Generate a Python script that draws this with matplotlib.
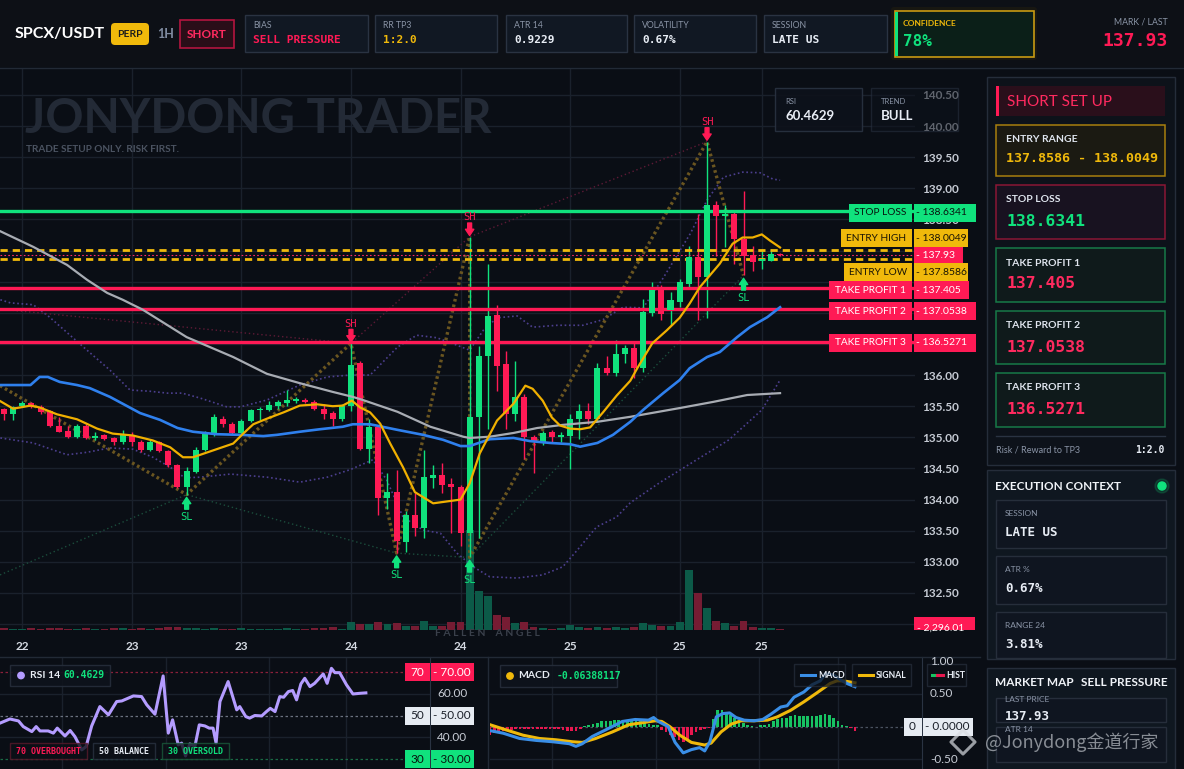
import matplotlib
matplotlib.use("Agg")
import matplotlib.pyplot as plt
from matplotlib.patches import Rectangle, FancyBboxPatch, Circle
from matplotlib import transforms
import numpy as np

# ======================= DATA =======================
pair = "SPCX/USDT"
timeframe = "1H"
stat_labels = ["BIAS", "RR TP3", "ATR 14", "VOLATILITY", "SESSION"]
stat_values = ["SELL PRESSURE", "1:2.0", "0.9229", "0.67%", "LATE US"]
confidence = "78%"
last_price = 137.93

opens = [135.46,135.38,135.50,135.55,135.49,135.42,135.19,135.10,135.01,135.19,
         134.99,135.03,134.99,134.92,135.03,134.93,134.80,134.92,134.78,134.56,
         134.20,134.44,134.80,135.07,135.30,135.22,135.07,135.27,135.44,135.44,
         135.50,135.55,135.59,135.60,135.57,135.45,135.39,135.29,135.50,136.19,
         134.81,135.16,134.03,134.12,133.32,133.76,133.55,134.35,134.40,134.25,
         134.21,133.47,135.32,136.30,136.97,136.18,135.37,135.65,135.01,134.93,
         135.08,135.01,135.02,135.30,135.42,135.29,136.12,136.03,136.34,136.43,
         136.12,137.00,137.37,137.05,137.17,137.47,137.89,137.57,138.74,138.55,
         138.58,138.19,137.93,137.84,137.84,137.95]
highs = [135.47,135.50,135.58,135.57,135.52,135.44,135.33,135.19,135.21,135.21,
         135.08,135.05,135.00,135.11,135.08,134.96,134.97,134.94,134.80,134.57,
         134.52,134.85,135.10,135.37,135.35,135.25,135.29,135.46,135.48,135.59,
         135.60,135.76,135.65,135.63,135.60,135.54,135.42,135.53,136.51,136.22,
         135.30,135.18,134.42,134.48,133.81,134.10,134.80,134.55,134.58,134.34,
         134.23,138.22,136.47,137.78,137.13,136.39,136.23,135.70,135.03,135.10,
         135.11,135.09,135.38,135.54,135.55,136.20,136.30,136.57,136.49,136.55,
         137.22,137.49,137.45,137.33,137.55,138.08,138.59,139.75,138.80,138.74,
         138.62,138.96,138.07,138.03,138.02,137.96]
lows = [135.28,135.28,135.48,135.47,135.38,135.16,135.08,134.99,134.99,134.97,
        134.95,134.96,134.88,134.90,134.86,134.76,134.78,134.77,134.53,134.19,
        134.08,134.42,134.78,135.02,135.17,135.05,135.05,135.25,135.28,135.42,
        135.45,135.50,135.55,135.55,135.44,135.30,135.18,135.27,135.43,134.80,
        134.58,133.75,133.85,133.14,133.15,133.42,133.39,134.18,134.10,133.47,
        133.26,133.07,133.38,135.14,135.74,135.14,135.27,134.65,134.42,134.87,
        134.92,134.93,134.49,134.97,135.22,135.25,136.00,135.99,136.19,135.95,
        136.05,136.95,136.88,136.80,137.10,137.40,136.88,136.91,137.92,138.05,
        137.79,137.60,137.68,137.71,137.83,137.91]
closes = [135.38,135.48,135.55,135.49,135.40,135.18,135.09,135.01,135.19,134.99,
          135.02,134.98,134.92,135.03,134.93,134.80,134.92,134.78,134.55,134.20,
          134.46,134.80,135.07,135.32,135.22,135.07,135.27,135.44,135.46,135.52,
          135.56,135.60,135.60,135.57,135.45,135.38,135.29,135.50,136.17,134.81,
          135.16,134.03,134.12,133.33,133.76,133.55,134.36,134.40,134.24,134.20,
          133.47,135.32,136.30,136.95,136.15,135.37,135.65,135.00,134.93,135.07,
          135.01,135.03,135.30,135.42,135.29,136.11,136.03,136.34,136.43,136.12,
          137.02,137.37,136.98,137.20,137.49,137.89,137.57,138.74,138.55,138.58,
          138.19,137.92,137.81,137.87,137.95,137.93]
# volume in thousands
volumes_k = [4.6,2.3,2.3,4.6,2.3,4.6,4.6,2.3,2.3,4.6,
             2.3,2.3,4.6,4.6,2.3,4.6,2.3,4.6,6.9,6.9,
             4.6,4.6,2.3,4.6,2.3,2.3,4.6,2.3,2.3,2.3,
             2.3,4.6,2.3,2.3,4.6,4.6,6.9,2.3,18.4,13.8,
             13.8,18.4,13.8,16.1,9.2,9.2,20.7,9.2,9.2,18.4,
             18.4,229.6,89.5,78.1,34.4,29.8,16.1,18.4,6.9,4.6,
             2.3,4.6,11.5,6.9,4.6,6.9,4.6,6.9,4.6,6.9,
             16.1,11.5,9.2,9.2,18.4,137.8,85.0,50.5,20.7,16.1,
             9.2,20.7,6.9,4.6,4.6,2.296]
last_volume_label = "2,296.01"

x_tick_idx = [2, 14, 26, 38, 50, 62, 74, 83]
x_tick_labels = ["22", "23", "23", "24", "24", "25", "25", "25"]
price_ticks = [132.5, 133.0, 133.5, 134.0, 134.5, 135.0, 135.5, 136.0,
               138.5, 139.0, 139.5, 140.0, 140.5]

fast_x = [-0.4,1.0,2.9,3.9,5.8,8.0,10.2,11.9,14.1,16.3,18.2,19.6,20.7,22.9,25.1,26.2,27.3,28.8,
          30.6,32.4,34.3,36.0,37.1,38.1,39.0,40.1,41.2,42.3,43.7,45.0,47.0,50.0,51.0,52.1,54.0,
          55.8,57.1,57.9,59.0,60.0,60.9,62.0,63.1,64.2,65.6,67.1,68.6,69.4,71.0,72.6,74.0,75.1,
          76.2,77.3,78.4,79.8,80.9,82.0,83.0,83.9,85.0]
fast_y = [135.58,135.46,135.51,135.48,135.37,135.29,135.14,135.06,135.03,134.95,134.84,134.68,
          134.68,134.79,134.90,135.06,135.21,135.30,135.40,135.51,135.53,135.50,135.51,135.59,
          135.48,135.40,135.22,134.90,134.52,134.12,133.94,134.00,134.26,134.74,135.27,135.54,
          135.83,135.78,135.59,135.32,135.19,135.14,135.13,135.16,135.40,135.67,135.91,136.12,
          136.51,136.72,136.92,137.15,137.41,137.60,137.79,138.11,138.21,138.21,138.26,138.16,
          138.05]
mid_x = [-0.4,2.9,3.9,4.8,6.1,8.0,9.4,11.6,14.9,17.1,19.0,20.7,23.3,25.9,28.4,29.9,32.4,34.6,
         37.1,38.2,40.1,43.1,45.9,48.1,50.0,51.0,53.2,55.8,57.6,59.8,62.0,63.1,65.0,66.7,68.6,
         70.0,72.2,74.0,75.1,77.0,78.4,80.3,81.7,83.6,85.0]
mid_y = [135.84,135.84,135.97,135.97,135.89,135.84,135.79,135.65,135.39,135.28,135.15,135.09,
         135.05,135.04,135.02,135.04,135.09,135.13,135.17,135.21,135.21,135.12,135.04,134.96,
         134.86,134.86,134.97,134.99,134.94,134.91,134.89,134.85,134.91,135.04,135.25,135.44,
         135.71,135.92,136.11,136.29,136.37,136.61,136.77,136.93,137.09]
slow_x = [-0.4,3.2,6.9,9.1,11.3,13.0,15.2,20.0,25.1,28.8,32.4,36.0,38.2,39.3,43.1,46.7,50.3,
          51.0,53.2,55.8,58.4,61.2,65.0,68.6,74.0,77.7,81.4,85.0]
slow_y = [138.31,138.06,137.77,137.53,137.32,137.21,137.05,136.61,136.29,136.02,135.87,135.73,
          135.65,135.60,135.41,135.17,135.01,134.99,135.01,135.07,135.15,135.20,135.25,135.33,
          135.47,135.57,135.68,135.71]
bb_up_x = [-0.4,0.7,3.2,5.0,8.7,11.6,13.8,16.0,17.9,19.5,21.5,24.4,25.9,28.8,32.4,35.4,37.9,
           40.1,43.1,45.2,47.4,48.9,51.0,52.5,54.0,56.2,57.9,60.6,63.4,65.6,67.8,70.0,72.2,
           75.2,77.0,78.8,80.9,82.8,84.2,85.0]
bb_up_y = [137.21,137.16,137.13,136.93,136.45,136.08,135.76,135.74,135.71,135.71,135.63,
           135.49,135.49,135.60,135.84,135.97,136.00,136.00,136.45,136.64,136.60,136.52,
           136.40,136.72,136.92,136.95,136.77,136.80,136.80,136.89,137.09,137.08,137.56,
           138.28,138.81,139.18,139.26,139.25,139.15,139.13]
bb_lo_x = [-0.4,3.2,6.9,9.1,11.6,14.1,16.3,18.2,19.8,21.5,24.8,28.8,32.4,35.4,37.9,40.4,
           41.9,43.7,45.9,47.8,49.6,51.4,53.2,56.2,59.0,61.2,62.8,64.9,67.1,68.6,71.9,76.2,
           79.4,83.0,85.0]
bb_lo_y = [134.99,134.91,134.72,134.76,134.83,134.81,134.68,134.52,134.35,134.36,134.41,
           134.36,134.28,134.36,134.48,134.64,134.32,133.72,133.51,133.46,133.14,132.92,
           132.76,132.74,132.79,132.92,133.19,133.56,133.72,133.95,134.28,134.67,134.96,
           135.44,135.92]

zigzag_x = [-0.44, 20, 38, 43, 51, 51, 77, 81]
zigzag_y = [135.83, 134.08, 136.51, 133.14, 138.22, 133.07, 139.75, 137.60]
hi_trend_x = [-0.44, 38, 51, 77]
hi_trend_y = [137.06, 136.51, 138.22, 139.75]
lo_trend_x = [-0.44, 20, 43, 51, 81]
lo_trend_y = [132.79, 134.08, 133.14, 133.07, 137.60]
swing_high_idx = [38, 51, 77]
swing_low_idx = [20, 43, 51, 81]

level_names = ["STOP LOSS", "ENTRY HIGH", "ENTRY LOW", "TAKE PROFIT 1", "TAKE PROFIT 2", "TAKE PROFIT 3"]
level_prices = [138.6341, 138.0049, 137.8586, 137.405, 137.0538, 136.5271]
level_texts = ["138.6341", "138.0049", "137.8586", "137.405", "137.0538", "136.5271"]

rsi_value = "60.4629"
rsi_x = [0,2.3,4.3,5.4,7.4,8.4,9.3,11.2,12.4,13.3,15.1,16.3,17.4,19.0,20.0,21.3,23.2,25.2,27.1,
         28.3,31.0,32.9,34.1,36.0,37.9,39.1,40.1,41.4,42.2,43.1,44.1,45.3,46.3,47.6,48.6,49.5,
         50.2,51.1,53.0,55.0,55.7,57.1,58.0,59.2,60.8,61.9,62.8,63.9,65.0,65.9,67.0,68.0,68.9,
         69.9,70.8,72.0,73.1,75.1,76.0,77.0,77.8,78.9,80.5,82.0,83.6,85.0]
rsi_y = [46.6,48.5,47.6,45.0,42.7,45.0,43.0,43.0,42.0,44.3,40.7,43.2,40.4,34.3,35.8,45.3,54.2,
         50.4,56.5,56.8,59.1,58.8,55.0,50.7,68.3,42.0,48.1,36.6,37.4,31.5,37.0,36.1,45.8,45.3,
         44.3,44.3,37.4,56.5,65.7,52.7,54.2,49.6,48.9,50.1,49.9,51.9,53.4,51.9,58.8,58.5,61.1,
         61.6,57.3,64.6,67.2,63.4,64.9,69.2,64.9,71.8,69.8,69.8,64.2,60.0,60.3,60.5]

macd_value = "-0.06388117"
macd_x = [0,3.1,6.9,10.8,14.6,18.5,20.0,21.5,23.8,26.9,30.8,33.8,36.9,38.1,39.2,41.5,43.1,45.0,
          46.9,48.8,50.0,51.2,52.7,54.2,55.8,57.3,59.2,61.5,63.5,65.4,67.7,69.2,70.8,73.1,75.0,
          76.9,78.1,80.0,81.5,83.1,85.0]
macd_y = [-0.06,-0.10,-0.18,-0.21,-0.23,-0.26,-0.30,-0.26,-0.15,-0.05,0.08,0.11,0.10,0.14,0.08,
          0.00,-0.24,-0.40,-0.35,-0.32,-0.37,-0.23,0.15,0.20,0.21,0.14,0.10,0.09,0.11,0.19,0.30,
          0.32,0.45,0.53,0.64,0.70,0.81,0.79,0.72,0.66,0.61]
signal_x = [0,3.8,7.7,11.5,15.4,19.2,21.5,24.6,28.5,32.3,35.4,38.5,40.0,41.9,44.2,46.9,50.0,
            51.5,53.8,56.2,58.5,61.5,64.6,66.9,70.0,73.1,76.2,79.2,80.8,82.3,85.0]
signal_y = [0.03,-0.05,-0.13,-0.18,-0.20,-0.23,-0.24,-0.18,-0.08,0.03,0.06,0.09,0.08,0.00,-0.13,
            -0.24,-0.28,-0.25,-0.08,0.04,0.09,0.09,0.10,0.15,0.25,0.38,0.52,0.66,0.70,0.70,0.67]
hist = [-0.13,-0.10,-0.08,-0.06,-0.05,-0.05,-0.04,-0.04,-0.04,-0.03,
        -0.03,-0.03,-0.03,-0.03,-0.04,-0.04,-0.04,-0.05,-0.06,-0.07,
        -0.07,-0.04,0.01,0.03,0.04,0.06,0.08,0.09,0.09,0.10,
        0.10,0.10,0.10,0.10,0.09,0.08,0.06,0.04,0.03,0.02,
        -0.05,-0.08,-0.12,-0.16,-0.20,-0.24,-0.20,-0.13,-0.08,-0.05,
        -0.04,-0.02,0.12,0.26,0.26,0.22,0.18,0.14,0.10,0.05,
        0.03,0.01,-0.01,0.02,0.03,0.04,0.08,0.11,0.13,0.14,
        0.16,0.18,0.17,0.17,0.17,0.17,0.16,0.18,0.19,0.18,
        0.13,0.08,0.03,0.01,-0.02,-0.07]

setup_title = "SHORT SET UP"
setup_labels = ["ENTRY RANGE", "STOP LOSS", "TAKE PROFIT 1", "TAKE PROFIT 2", "TAKE PROFIT 3"]
setup_values = ["137.8586 - 138.0049", "138.6341", "137.405", "137.0538", "136.5271"]
rr_value = "1:2.0"
ctx_labels = ["SESSION", "ATR %", "RANGE 24"]
ctx_values = ["LATE US", "0.67%", "3.81%"]

# ======================= STYLE =======================
W, H = 1184, 769
DPI = 100
BG = '#0a0e15'
HEADER_BG = '#0d1016'
GRID = '#1a212c'
GREEN = '#10e27d'
RED = '#ff1a55'
GOLD = '#f0b90b'
TXT = '#e8edf5'
MUTED = '#8a94a6'
SANS = 'Lato'
MONO = 'DejaVu Sans Mono'

fig = plt.figure(figsize=(W / DPI, H / DPI), dpi=DPI)
fig.patch.set_facecolor(BG)


def rect(x0, y0, x1, y1):
    return [x0 / W, 1 - y1 / H, (x1 - x0) / W, (y1 - y0) / H]


# ======================= MAIN CHART =======================
ax = fig.add_axes(rect(0, 68, 915, 630))
ax.set_facecolor(BG)
n = len(closes)
idx = np.arange(n)
o = np.array(opens); c = np.array(closes); hi = np.array(highs); lo = np.array(lows)
ax.set_xlim(-0.44, 99.78)
ax.set_ylim(131.905, 140.933)
for s in ax.spines.values():
    s.set_visible(False)
ax.set_yticks(price_ticks)
ax.set_yticklabels([f"{v:.2f}" for v in price_ticks])
ax.set_yticks(np.arange(132.0, 140.51, 0.5), minor=True)
ax.yaxis.tick_right()
ax.tick_params(axis='y', which='both', length=0, pad=5, labelsize=8.5, labelcolor='#c5cad3')
ax.set_xticks(x_tick_idx)
ax.set_xticklabels(x_tick_labels)
ax.tick_params(axis='x', length=0, pad=8, labelsize=8.5, labelcolor='#d5dae2')
for lbl in ax.get_xticklabels() + ax.get_yticklabels():
    lbl.set_fontfamily(SANS)
    lbl.set_fontweight('bold')
ax.grid(True, which='both', axis='y', color=GRID, lw=1.0, zorder=0)
ax.grid(True, which='major', axis='x', color=GRID, lw=1.0, zorder=0)
ax.set_axisbelow(True)

# volume
VOL_TOP = 1290.4
blend = transforms.blended_transform_factory(ax.transData, ax.transAxes)
for i in idx:
    col = '#0c5a48' if c[i] >= o[i] else '#761c33'
    ax.add_patch(Rectangle((i - 0.43, 0), 0.86, volumes_k[i] / VOL_TOP, transform=blend,
                           facecolor=col, lw=0, zorder=1))

# bollinger bands
ax.plot(bb_up_x, bb_up_y, color='#4c3f8e', lw=1.2, ls=(0, (1, 1.6)), zorder=2)
ax.plot(bb_lo_x, bb_lo_y, color='#4c3f8e', lw=1.2, ls=(0, (1, 1.6)), zorder=2)
# trend lines
ax.plot(hi_trend_x, hi_trend_y, color='#5e1a36', lw=1.0, ls=(0, (1, 2)), zorder=2)
ax.plot(lo_trend_x, lo_trend_y, color='#1b4d3c', lw=1.0, ls=(0, (1, 2)), zorder=2)
# zigzag
ax.plot(zigzag_x, zigzag_y, color='#6a5520', lw=2.4, ls=(0, (0.8, 0.9)), zorder=2.5)

# levels
level_colors = [GREEN, GOLD, GOLD, RED, RED, RED]
for name, p, col in zip(level_names, level_prices, level_colors):
    if name.startswith('ENTRY'):
        ax.axhline(p, color=col, lw=2.0, ls=(0, (2.6, 1.8)), zorder=3.5)
    else:
        ax.axhline(p, color=col, lw=2.4, zorder=3.5)
ax.axhline(last_price, color='#ff2a6a', lw=0.8, ls=(0, (1.5, 2)), zorder=3.5)

# candles
cols = np.where(c >= o, GREEN, RED)
ax.vlines(idx, lo, hi, colors=cols, lw=1.0, zorder=3)
ax.bar(idx, np.maximum(np.abs(c - o), 0.018), bottom=np.minimum(o, c), width=0.66,
       color=cols, lw=0, zorder=4)

# moving averages
ax.plot(slow_x, slow_y, color='#a8acb3', lw=1.6, zorder=5)
ax.plot(mid_x, mid_y, color='#2f80ed', lw=1.9, zorder=5)
ax.plot(fast_x, fast_y, color='#f0b000', lw=1.6, zorder=5.5)

# swing markers
for i in swing_high_idx:
    ax.annotate('', xy=(i, hi[i]), xytext=(0, 10), textcoords='offset points',
                arrowprops=dict(arrowstyle='simple,head_length=0.45,head_width=0.6,tail_width=0.28',
                                color=RED, shrinkA=0, shrinkB=1), zorder=7)
    ax.annotate('SH', xy=(i, hi[i]), xytext=(0, 14), textcoords='offset points', ha='center',
                va='center', fontsize=7.5, color=RED, family=MONO, zorder=7)
for i in swing_low_idx:
    ax.annotate('', xy=(i, lo[i]), xytext=(0, -10.5), textcoords='offset points',
                arrowprops=dict(arrowstyle='simple,head_length=0.45,head_width=0.6,tail_width=0.28',
                                color=GREEN, shrinkA=0, shrinkB=2), zorder=7)
    ax.annotate('SL', xy=(i, lo[i]), xytext=(0, -16), textcoords='offset points', ha='center',
                va='center', fontsize=7.5, color=GREEN, family=MONO, zorder=7)

# ======================= RSI PANEL =======================
ar = fig.add_axes(rect(0, 657, 430, 769))
ar.set_facecolor(BG)
ar.set_xlim(0, 99.9)
ar.set_ylim(25.5, 77.0)
for k, s in ar.spines.items():
    s.set_visible(k == 'right')
ar.spines['right'].set_color('#2a3342')
ar.set_xticks([]); ar.set_yticks([])
for gx in [14.4, 38.5, 62.5, 80.3]:
    ar.axvline(gx, color=GRID, lw=1, zorder=0)
for gy in [60, 40]:
    ar.axhline(gy, color=GRID, lw=1, zorder=0)
ar.axhline(70, color='#8a1f3a', lw=0.9, ls=(0, (2, 2)), zorder=1)
ar.axhline(50, color='#6b7280', lw=0.9, ls=(0, (2, 2)), zorder=1)
ar.axhline(30, color='#1a6b45', lw=0.9, ls=(0, (2, 2)), zorder=1)
ar.plot(rsi_x, rsi_y, color='#b49cff', lw=2.2, zorder=3)

# ======================= MACD PANEL =======================
am = fig.add_axes(rect(490, 657, 922, 769))
am.set_facecolor(BG)
am.set_xlim(0, 100.6)
am.set_ylim(-0.646, 1.064)
for k, s in am.spines.items():
    s.set_visible(k == 'right')
am.spines['right'].set_color('#2a3342')
am.set_xticks([]); am.set_yticks([])
for gx in [14.4, 38.7, 62.6, 81.0]:
    am.axvline(gx, color=GRID, lw=1, zorder=0)
for gy in [0.5, -0.5]:
    am.axhline(gy, color=GRID, lw=1, zorder=0)
am.axhline(0, color='#4a5260', lw=0.9, ls=(0, (2, 2)), zorder=1)
hc = ['#17c262' if v >= 0 else '#e8174f' for v in hist]
am.bar(np.arange(len(hist)), hist, width=0.62, color=hc, lw=0, zorder=2)
am.plot(signal_x, signal_y, color='#f0b90b', lw=2.2, zorder=3)
am.plot(macd_x, macd_y, color='#3a8ee6', lw=2.2, zorder=3.5)

# ======================= UI OVERLAY =======================
ui = fig.add_axes([0, 0, 1, 1], zorder=20)
ui.set_xlim(0, W)
ui.set_ylim(H, 0)
ui.axis('off')
ui.patch.set_alpha(0)


def box(x0, y0, x1, y1, fc='none', ec='none', lw=1.0, r=0, alpha=1.0, z=1):
    if r:
        p = FancyBboxPatch((x0, y0), x1 - x0, y1 - y0, boxstyle=f'round,pad=0,rounding_size={r}',
                           facecolor=fc, edgecolor=ec, lw=lw, alpha=alpha, zorder=z)
    else:
        p = Rectangle((x0, y0), x1 - x0, y1 - y0, facecolor=fc, edgecolor=ec, lw=lw,
                      alpha=alpha, zorder=z)
    ui.add_patch(p)
    return p


def txt(x, y, s, size, color, weight='normal', family=SANS, ha='left', va='center', z=3, **kw):
    return ui.text(x, y, s, fontsize=size, color=color, fontweight=weight, family=family,
                   ha=ha, va=va, zorder=z, **kw)


def py(price):
    return H - ax.transData.transform((0, price))[1]


# header
box(0, 0, W, 67, fc=HEADER_BG, z=0.5)
ui.plot([0, W], [67.5, 67.5], color='#222a36', lw=1, zorder=1)
txt(15, 34, pair, 11.5, '#ffffff', 'bold')
box(111, 23, 149, 45, fc=GOLD, r=4)
txt(130, 34.5, 'PERP', 7.5, '#1b1b1b', 'bold', ha='center')
txt(157, 34.5, timeframe, 9, '#7f8ba0', 'bold')
box(180, 20, 234, 48, fc='#2a0e18', ec='#b3153f', lw=1.2)
txt(207, 34.5, 'SHORT', 8.5, '#ff2a5f', 'bold', ha='center')
stat_x = [(245, 368), (375, 497), (506, 627), (634, 756), (764, 887)]
stat_colors = [RED, GOLD, TXT, TXT, TXT]
for (x0, x1), lab, val, col in zip(stat_x, stat_labels, stat_values, stat_colors):
    box(x0, 15, x1, 52, fc='#111823', ec='#2a3342', lw=1)
    txt(x0 + 8, 26, lab, 6.3, MUTED)
    txt(x0 + 8, 40, val, 8, col, 'bold', family=MONO)
# confidence
box(891, 7, 1037, 60, fc='#3a2c05', alpha=0.25, r=3)
box(895, 11, 1034, 57, fc='#0b1f18', ec='#c89a12', lw=1.2)
box(895, 12, 898, 56, fc=GREEN, z=2)
txt(903, 23, 'CONFIDENCE', 6, GOLD, 'bold')
txt(903, 41, confidence, 11.5, GREEN, 'bold', family=MONO)
txt(1168, 22, 'MARK / LAST', 6.3, MUTED, ha='right')
txt(1168, 41, f"{last_price:.2f}", 13, RED, 'bold', family=MONO, ha='right')

# watermark texts in chart
txt(25, 133, 'JONYDONG TRADER', 34, '#232a36', 'bold', va='baseline', z=0.8)
txt(26, 150, 'TRADE SETUP ONLY. RISK FIRST.', 7.2, '#4b5361', 'bold')
txt(487, 633, 'F A L L E N    A N G E L', 7.5, '#3a404b', 'bold', ha='center')

# rsi / trend mini boxes
box(775, 88, 862, 131, fc='#0d121b', ec='#2a3342', alpha=0.9)
txt(785, 101, 'RSI', 5.5, MUTED)
txt(785, 116, rsi_value, 9.5, TXT, 'bold')
box(871, 88, 958, 131, fc='#0d121b', ec='#2a3342', alpha=0.55)
txt(881, 101, 'TREND', 5.5, MUTED)
txt(881, 116, 'BULL', 9.5, TXT, 'bold')

# level labels
lab_x0 = [849, 841, 844, 829, 829, 829]
val_x1 = [976, 968, 968, 969, 976, 976]
lab_dy = [1.5, -12, 13, 2.5, 2, 0.5]
lab_fc = [GREEN, GOLD, GOLD, RED, RED, RED]
lab_tc = ['#08140e', '#1a1505', '#1a1505', '#ffffff', '#ffffff', '#ffffff']
for name, p, t, x0, x1, dy, fc, tc in zip(level_names, level_prices, level_texts, lab_x0,
                                           val_x1, lab_dy, lab_fc, lab_tc):
    yc = py(p) + dy
    box(x0, yc - 9, 912, yc + 9, fc=fc, z=4)
    box(913.5, yc - 9, x1, yc + 9, fc=fc, z=4)
    txt((x0 + 912) / 2, yc, name, 7.3, tc, ha='center', z=5)
    txt(916, yc, '- ' + t, 7.5, tc, z=5)
yl = py(last_price) + 0.5
box(913.5, yl - 8, 963, yl + 8, fc=RED, z=4.5)
txt(916, yl, f"- {last_price:.2f}", 7.5, '#ffffff', z=5)

# volume label (clipped at chart bottom)
vb = box(913.5, 617, 975, 630, fc=RED, z=4)
vt = txt(917, 628, '- ' + last_volume_label, 7.5, '#ffffff', z=5)
vt.set_clip_path(vb)

# bottom separators
ui.plot([0, 980], [657, 657], color='#222a36', lw=1, zorder=1)
ui.plot([488, 488], [657, 769], color='#222a36', lw=1, zorder=1)

# RSI panel labels
box(10, 665, 110, 686, fc='#0e131c', ec='#262e3b', alpha=0.9)
ui.add_patch(Circle((21, 675.5), 3.2, color='#b49cff', zorder=3))
txt(30, 675.5, 'RSI 14', 7.5, TXT, 'bold')
txt(63, 675.5, rsi_value, 7, GREEN, 'bold', family=MONO)
for (x0, x1, s, tc, ec) in [(10, 87, '70 OVERBOUGHT', RED, '#5a1a2b'),
                            (93, 155, '50 BALANCE', TXT, '#2a3342'),
                            (162, 229, '30 OVERSOLD', GREEN, '#1a5a3b')]:
    box(x0, 743, x1, 759, fc='#0c1017', ec=ec, alpha=0.8)
    txt((x0 + x1) / 2, 751, s, 6.0, tc, 'bold', family=MONO, ha='center')
for val, fc, tc in [(70, RED, '#ffffff'), (50, '#e6ebf2', '#1a1f29'), (30, GREEN, '#08140e')]:
    yc = H - ar.transData.transform((0, val))[1]
    box(405, yc - 9, 429.5, yc + 9, fc=fc, z=4)
    box(431, yc - 9, 474, yc + 9, fc=fc, z=4)
    txt(417, yc, f"{val}", 8.5, tc, ha='center', z=5)
    txt(433, yc, f"- {val:.2f}", 8.5, tc, z=5)
for val in [60, 40]:
    yc = H - ar.transData.transform((0, val))[1]
    txt(437, yc, f"{val:.2f}", 8.5, '#c8cdd6')

# MACD panel labels
box(500, 665, 617, 687, fc='#0e131c', ec='#262e3b', alpha=0.9)
ui.add_patch(Circle((510, 676), 3.2, color=GOLD, zorder=3))
txt(518, 676, 'MACD', 7.5, TXT, 'bold')
txt(557, 676, macd_value, 7, GREEN, 'bold', family=MONO)
for (x0, x1, s, lc) in [(794, 845, 'MACD', '#3a8ee6'), (852, 911, 'SIGNAL', GOLD),
                        (927, 966, 'HIST', None)]:
    box(x0, 664, x1, 686, fc='#0c1017', ec='#262e3b', alpha=0.75)
    if lc:
        ui.plot([x0 + 7, x0 + 21], [675, 675], color=lc, lw=2.2, zorder=3)
        txt(x0 + 24, 675, s, 6.2, TXT, 'bold')
    else:
        ui.plot([x0 + 5, x0 + 10], [675, 675], color='#17c262', lw=2.2, zorder=3)
        ui.plot([x0 + 10, x0 + 16], [675, 675], color='#e8174f', lw=2.2, zorder=3)
        txt(x0 + 19, 675, s, 6.2, TXT, 'bold')
for val in [1.0, 0.5, -0.5]:
    yc = H - am.transData.transform((0, val))[1]
    txt(930, yc, f"{val:.2f}", 8.5, '#c8cdd6')
y0m = H - am.transData.transform((0, 0))[1]
box(904, y0m - 9, 921.5, y0m + 9, fc='#e6ebf2', z=4)
box(923, y0m - 9, 973, y0m + 9, fc='#e6ebf2', z=4)
txt(912.5, y0m, '0', 8.5, '#1a1f29', ha='center', z=5)
txt(925, y0m, '- 0.0000', 8.5, '#1a1f29', z=5)

# ======================= RIGHT PANEL =======================
box(987, 77, 1175, 465, fc='#0d121a', ec='#252d3a')
box(996, 86, 1165, 116, fc='#2a0f1b')
box(996, 86, 999, 116, fc=RED, z=2)
txt(1007, 101.5, setup_title, 11, '#ff2a5f')
card_y = [(125, 176), (185, 239), (248, 302), (311, 364), (373, 427)]
card_ec = ['#a87f0e', '#8a1735', '#177a48', '#177a48', '#177a48']
card_fc = ['#1b1a12', '#181220', '#0f1a1b', '#0f1a1b', '#0f1a1b']
card_vc = [GOLD, GREEN, '#ff2a5f', '#ff2a5f', '#ff2a5f']
card_vs = [9.6, 11.8, 11.8, 11.8, 11.8]
for (y0, y1), lab, val, ec, fc, vc, vs in zip(card_y, setup_labels, setup_values, card_ec,
                                              card_fc, card_vc, card_vs):
    box(996, y0, 1165, y1, fc=fc, ec=ec, lw=1.1)
    txt(1006, y0 + 15, lab, 7.5, '#dfe5ee', 'bold')
    txt(1006, y0 + (33 if vs < 10 else 36), val, vs, vc, 'bold', family=MONO)
ui.plot([996, 1165], [436, 436], color='#2a3342', lw=1, zorder=2)
txt(996, 450, 'Risk / Reward to TP3', 6.5, MUTED)
txt(1165, 450, rr_value, 7, TXT, 'bold', family=MONO, ha='right')

box(987, 470, 1175, 659, fc='#0f1720', ec='#252d3a')
txt(995, 486, 'EXECUTION CONTEXT', 8.5, '#f0f3f8', 'bold')
ui.add_patch(Circle((1162, 486), 7, color=GREEN, alpha=0.15, zorder=2))
ui.add_patch(Circle((1162, 486), 4, color=GREEN, zorder=3))
for k, (lab, val) in enumerate(zip(ctx_labels, ctx_values)):
    y0 = 500 + 56 * k
    y1 = min(y0 + 48, 658)
    box(996, y0, 1166, y1, fc='#0f1520', ec='#262e3b')
    txt(1005, y0 + 13, lab, 6, MUTED)
    txt(1005, y0 + 32, val, 9, TXT, 'bold', family=MONO)

box(987, 668, 1175, 775, fc='#0f1720', ec='#252d3a')
txt(995, 683, 'MARKET MAP', 8.5, '#f0f3f8', 'bold')
txt(1081, 683, 'SELL PRESSURE', 8.5, '#f0f3f8', 'bold')
box(996, 698, 1166, 722, fc='#0f1520', ec='#262e3b')
txt(1005, 699, 'LAST PRICE', 6, MUTED)
txt(1005, 717, f"{last_price:.2f}", 9, TXT, 'bold', family=MONO)
box(996, 727, 1166, 762, fc='#0f1520', ec='#262e3b')
txt(1005, 730, 'ATR 14', 6, MUTED)

# platform watermark (covers the ATR 14 value as in the screenshot)
ui.scatter([963], [742], marker='D', s=150, facecolor='none', edgecolor='#d8dce2', lw=2.2,
           alpha=0.7, zorder=8)
ui.text(985, 742, '@Jonydong金道行家', fontsize=13, color='#d8dce2', alpha=0.6,
        family=['Noto Sans CJK SC', 'DejaVu Sans'], ha='left', va='center', zorder=8)

fig.savefig('out.png', dpi=DPI, facecolor=BG)
